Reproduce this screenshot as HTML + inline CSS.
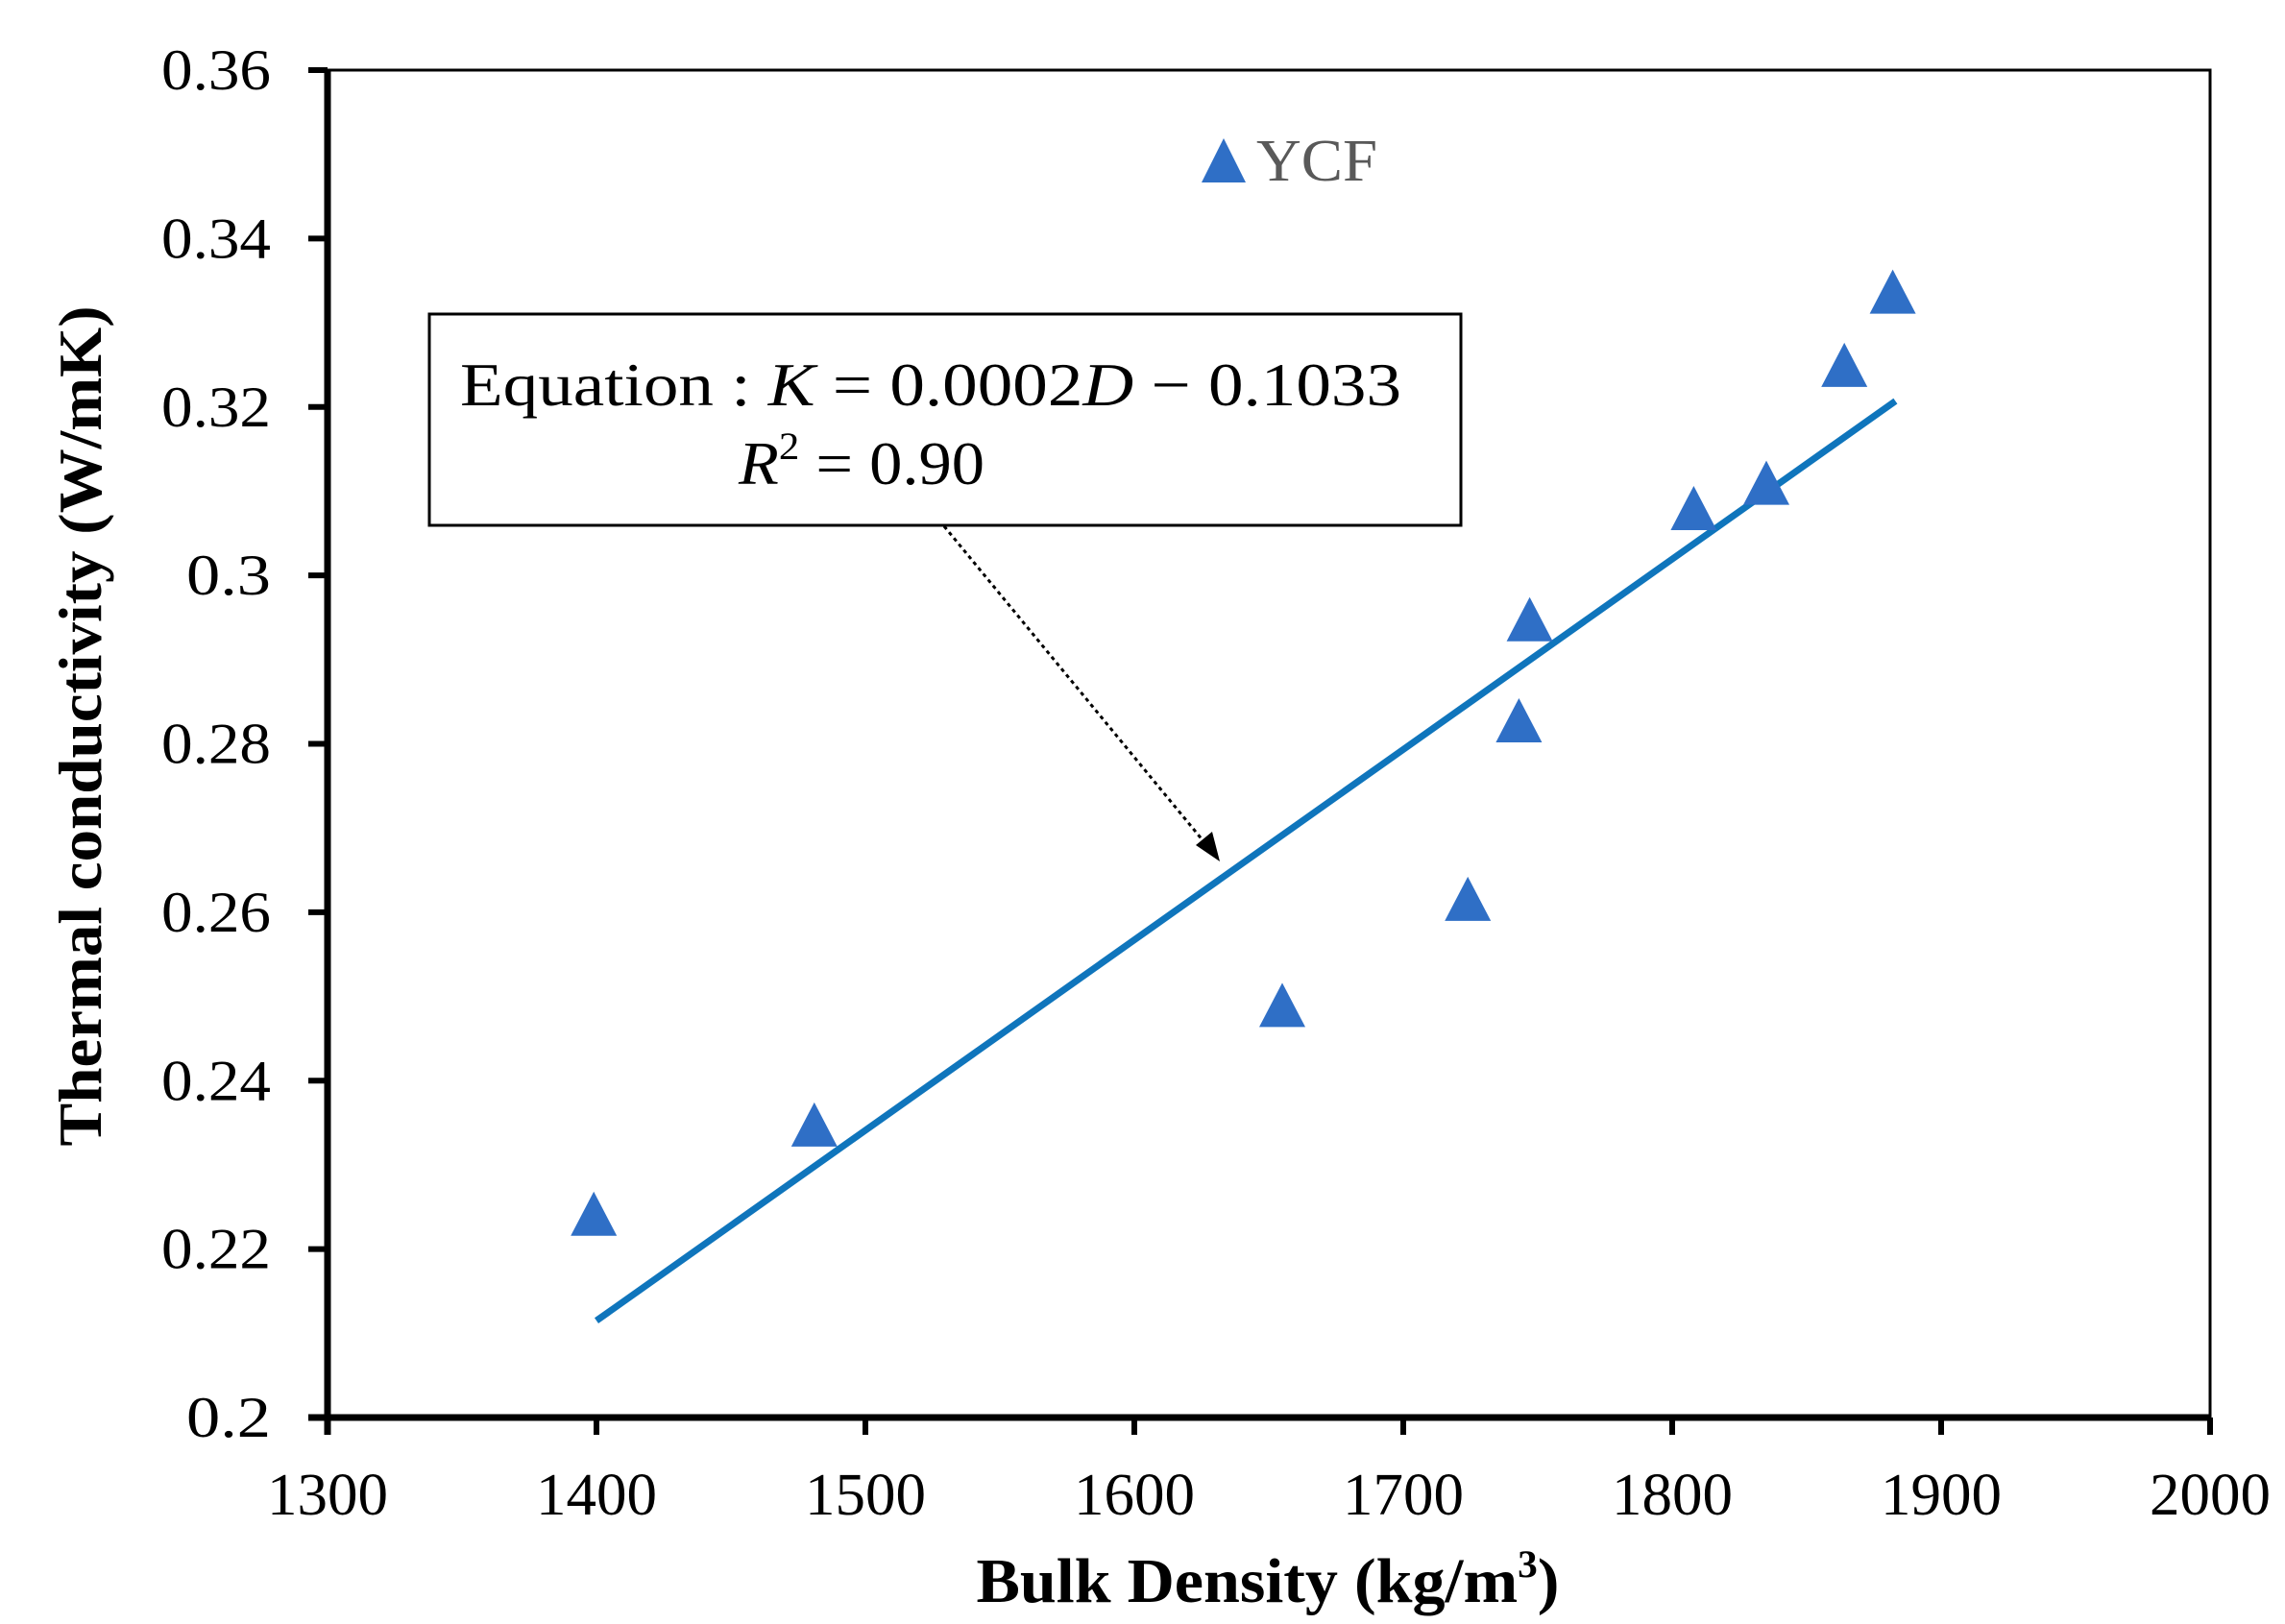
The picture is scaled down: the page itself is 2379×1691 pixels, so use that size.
<!DOCTYPE html>
<html><head><meta charset="utf-8"><style>
html,body{margin:0;padding:0;background:#fff;}
svg{display:block;}
text{font-family:"Liberation Serif",serif;}
</style></head>
<body>
<svg id="chart" width="2379" height="1691" viewBox="0 0 2379 1691" xmlns="http://www.w3.org/2000/svg">
<rect width="2379" height="1691" fill="#fff"/>
<g id="plot"></g>
</svg>
<script>
const xTicks = [1300,1400,1500,1600,1700,1800,1900,2000];
const yTicks = [0.2,0.22,0.24,0.26,0.28,0.3,0.32,0.34,0.36];
const yTickLabels = ["0.2","0.22","0.24","0.26","0.28","0.3","0.32","0.34","0.36"];
const density = [1399,1481,1655,1724,1743,1747,1808,1835,1864,1882];
const conductivity = [0.2242,0.2348,0.249,0.2616,0.2828,0.2948,0.308,0.311,0.325,0.3337];
const fitX = [1400,1883];
const fitY = [0.2115,0.3207];

const L=341, R=2301, T=73, B=1476;
const xMin=1300, xMax=2000, yMin=0.2, yMax=0.36;
function sx(v){return L+(v-xMin)/(xMax-xMin)*(R-L);}
function sy(v){return B-(v-yMin)/(yMax-yMin)*(B-T);}
const NS="http://www.w3.org/2000/svg";
const g=document.getElementById('plot');
function mk(tag,attrs,parent){const e=document.createElementNS(NS,tag);for(const k in attrs)e.setAttribute(k,attrs[k]);(parent||g).appendChild(e);return e;}

// plot frame
let e=mk('rect',{x:L,y:T,width:R-L,height:B-T,fill:'none',stroke:'#000','stroke-width':3});


e=mk('line',{x1:L,y1:T,x2:L,y2:B+18,stroke:'#000','stroke-width':7});


e=mk('line',{x1:L-20,y1:B,x2:R,y2:B,stroke:'#000','stroke-width':7});



// x ticks
xTicks.forEach((v,i)=>{
  const t=mk('line',{x1:sx(v),y1:B,x2:sx(v),y2:B+18,stroke:'#000','stroke-width':6});
  
  
  const lb=mk('text',{x:sx(v),y:1577,'text-anchor':'middle','font-size':62,fill:'#000',textLength:126,lengthAdjust:'spacingAndGlyphs'});
  lb.textContent=String(v);
  
  
});
// y ticks
yTicks.forEach((v,i)=>{
  const t=mk('line',{x1:L-20,y1:sy(v),x2:L,y2:sy(v),stroke:'#000','stroke-width':6});
  
  
  const s=yTickLabels[i];
  const lb=mk('text',{x:282,y:sy(v)+20,'text-anchor':'end','font-size':60,fill:'#000',textLength:s.length*26+10,lengthAdjust:'spacingAndGlyphs'});
  lb.textContent=s;
  
  
});

// fit line
e=mk('line',{x1:sx(fitX[0]),y1:sy(fitY[0]),x2:sx(fitX[1]),y2:sy(fitY[1]),stroke:'#0F75BC','stroke-width':7});



// points
density.forEach((d,i)=>{
  const cx=sx(d), cy=sy(conductivity[i]);
  const p=mk('polygon',{points:`${cx},${cy-23} ${cx-24},${cy+23} ${cx+24},${cy+23}`,fill:'#2F6FC6'});
  
  
});

// legend
const lg=mk('g',{});


mk('polygon',{points:'1274,144 1251,190 1297,190',fill:'#2F6FC6'},lg);
const lt=mk('text',{x:1308,y:188,'font-size':62,fill:'#595959',textLength:126,lengthAdjust:'spacingAndGlyphs'},lg);
lt.textContent='YCF';

// equation box
e=mk('rect',{x:447,y:327,width:1074,height:220,fill:'#fff',stroke:'#000','stroke-width':3});


e=mk('text',{x:479,y:422,'font-size':64,fill:'#000',textLength:980,lengthAdjust:'spacingAndGlyphs'});
e.innerHTML='Equation : <tspan font-style="italic">K</tspan> = 0.0002<tspan font-style="italic">D</tspan>  − 0.1033';


e=mk('text',{x:769,y:504,'font-size':64,fill:'#000',textLength:256,lengthAdjust:'spacingAndGlyphs'});
e.innerHTML='<tspan font-style="italic">R</tspan><tspan font-size="40" dy="-26">2</tspan><tspan dy="26"> = 0.90</tspan>';



// arrow
e=mk('line',{x1:983,y1:548,x2:1258,y2:882,stroke:'#000','stroke-width':3,'stroke-dasharray':'4 4'});


e=mk('polygon',{points:'1270,897 1245,880 1262,866',fill:'#000'});



// axis titles
e=mk('text',{x:1320,y:1668,'text-anchor':'middle','font-size':66,'font-weight':'bold',fill:'#000',textLength:607,lengthAdjust:'spacingAndGlyphs'});
e.innerHTML='Bulk Density (kg/m<tspan font-size="40" dy="-26">3</tspan><tspan dy="26">)</tspan>';


e=mk('text',{x:0,y:0,'text-anchor':'middle','font-size':64,'font-weight':'bold',fill:'#000',textLength:875,lengthAdjust:'spacingAndGlyphs',transform:'translate(105,756) rotate(-90)'});
e.textContent='Thermal conductivity (W/mK)';


</script>
</body></html>
